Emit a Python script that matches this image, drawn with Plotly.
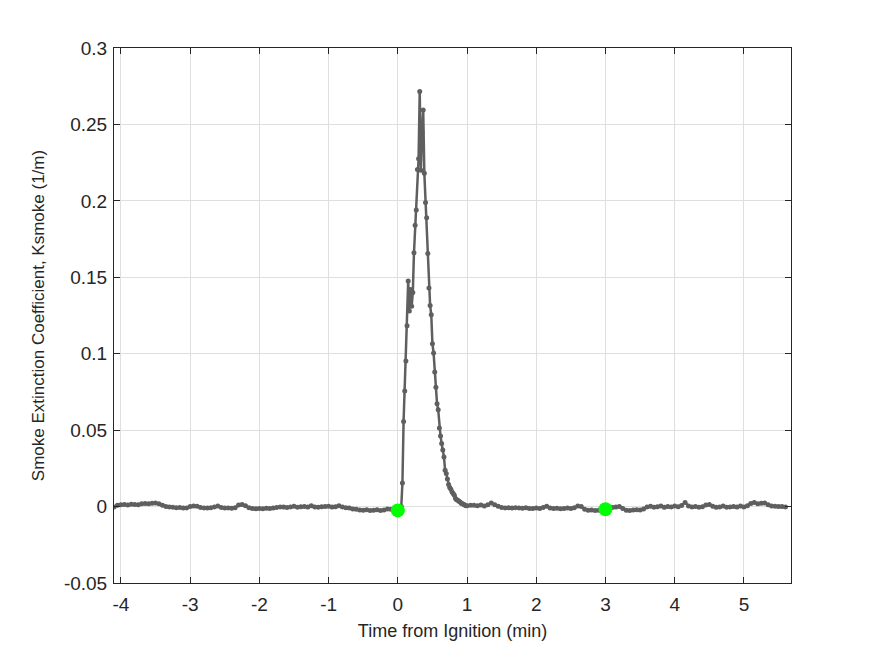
import numpy as np
import plotly.graph_objects as go

# ---------------- data ----------------
# pre-ignition baseline, sampled every 0.05 min from -4.10 to -0.05
t_pre = np.round(np.arange(-4.10, -0.025, 0.05), 4)
k_pre = [
    -0.0002, 0.0008, 0.0012, 0.0013, 0.0010, 0.0015, 0.0014, 0.0012, 0.0019, 0.0020,
    0.0018, 0.0022, 0.0024, 0.0019, 0.0008, 0.0000, -0.0002, -0.0004, -0.0008, -0.0006,
    -0.0010, -0.0009, 0.0000, 0.0004, 0.0002, -0.0006, -0.0009, -0.0010, -0.0008, -0.0002,
    0.0004, -0.0006, -0.0010, -0.0009, -0.0011, -0.0008, 0.0010, 0.0013, 0.0005, -0.0008,
    -0.0013, -0.0014, -0.0012, -0.0015, -0.0011, -0.0013, -0.0010, -0.0006, -0.0002, -0.0003,
    -0.0006, -0.0002, 0.0002, -0.0004, -0.0001, 0.0000, -0.0003, 0.0006, -0.0002, -0.0004,
    -0.0001, 0.0000, 0.0002, -0.0003, -0.0001, 0.0005, -0.0002, -0.0008, -0.0010, -0.0016,
    -0.0018, -0.0022, -0.0024, -0.0020, -0.0026, -0.0024, -0.0021, -0.0025, -0.0022, -0.0016,
    -0.0018, -0.0020,
]
t_pre = t_pre[:len(k_pre)]

# ignition event, sampled every second (1/60 min) from 0 to 1 min
t_peak = np.round(np.arange(0, 61) / 60.0, 5)
k_peak = [
    -0.0025, -0.0020, -0.0015, 0.0000, 0.0155, 0.0556, 0.0756, 0.0952, 0.1183, 0.1475,
    0.1280, 0.1420, 0.1310, 0.1400, 0.1660, 0.1840, 0.1940, 0.2205, 0.2275, 0.2715,
    0.2200, 0.2450, 0.2595, 0.2180, 0.1990, 0.1890, 0.1656, 0.1430, 0.1316, 0.1255,
    0.1065, 0.1005, 0.0880, 0.0780, 0.0673, 0.0634, 0.0514, 0.0462, 0.0412, 0.0370,
    0.0325, 0.0237, 0.0216, 0.0180, 0.0144, 0.0125, 0.0113, 0.0096, 0.0085, 0.0074,
    0.0052, 0.0045, 0.0041, 0.0035, 0.0030, 0.0022, 0.0018, 0.0015, 0.0010, 0.0005,
    0.0005,
]

# post-event baseline, sampled every 0.05 min from 1.05 to 5.60
t_post = np.round(np.arange(1.05, 5.625, 0.05), 4)
k_post = [
    0.0008, 0.0009, 0.0006, 0.0010, 0.0003, 0.0012, 0.0024, 0.0012, 0.0002, -0.0006,
    -0.0009, -0.0008, -0.0010, -0.0007, -0.0009, -0.0011, -0.0008, -0.0012, -0.0013, -0.0010,
    -0.0013, -0.0006, 0.0002, -0.0010, -0.0013, -0.0011, -0.0014, -0.0012, -0.0010, -0.0013,
    -0.0008, 0.0004, 0.0000, -0.0018, -0.0024, -0.0022, -0.0026, -0.0024, -0.0018, -0.0010,
    -0.0007, -0.0006, -0.0003, 0.0001, -0.0012, -0.0024, -0.0025, -0.0022, -0.0020, -0.0023,
    -0.0016, -0.0002, 0.0002, -0.0004, -0.0001, 0.0003, -0.0005, 0.0001, -0.0002, 0.0004,
    -0.0001, 0.0007, 0.0026, 0.0004, -0.0002, 0.0000, -0.0004, -0.0001, 0.0010, 0.0014,
    0.0002, -0.0005, -0.0002, 0.0003, -0.0004, -0.0002, 0.0001, -0.0003, 0.0003, -0.0002,
    0.0006, 0.0020, 0.0026, 0.0018, 0.0022, 0.0024, 0.0012, 0.0004, 0.0002, 0.0000,
    0.0001, -0.0002,
]
t_post = t_post[:len(k_post)]

time_min = list(t_pre) + list(t_peak) + list(t_post)
ksmoke = k_pre + k_peak + k_post

# event markers (ignition and end of test window)
event_t = [0.0, 3.0]
event_k = [-0.0025, -0.0018]

x_ticks = [-4, -3, -2, -1, 0, 1, 2, 3, 4, 5]
x_tick_text = ["-4", "-3", "-2", "-1", "0", "1", "2", "3", "4", "5"]
y_ticks = [-0.05, 0, 0.05, 0.1, 0.15, 0.2, 0.25, 0.3]
y_tick_text = ["-0.05", "0", "0.05", "0.1", "0.15", "0.2", "0.25", "0.3"]

# ---------------- figure ----------------
fig = go.Figure()
fig.add_trace(go.Scatter(
    x=time_min, y=ksmoke, mode="lines+markers",
    line=dict(color="#5f5f5f", width=2.5),
    marker=dict(color="#5f5f5f", size=5),
    showlegend=False, hoverinfo="skip",
))
fig.add_trace(go.Scatter(
    x=event_t, y=event_k, mode="markers",
    marker=dict(color="#00ff00", size=14),
    showlegend=False, hoverinfo="skip",
))

axis_common = dict(
    showline=True, linecolor="#262626", linewidth=1, mirror="ticks",
    ticks="inside", ticklen=6, tickcolor="#262626",
    showgrid=True, gridcolor="#dfdfdf", gridwidth=1,
    zeroline=False,
    tickfont=dict(family="Liberation Sans, Arial, sans-serif", size=19, color="#262626"),
)

fig.update_layout(
    width=875, height=656,
    margin=dict(l=114, r=84, t=48, b=73),
    paper_bgcolor="white", plot_bgcolor="white",
    font=dict(family="Liberation Sans, Arial, sans-serif", color="#262626"),
    xaxis=dict(
        range=[-4.10, 5.68], tickvals=x_ticks, ticktext=x_tick_text,
        ticklabelstandoff=4,
        title=dict(text="Time from Ignition (min)", standoff=10,
                   font=dict(size=18, color="#262626")),
        **axis_common,
    ),
    yaxis=dict(
        range=[-0.05, 0.3], tickvals=y_ticks, ticktext=y_tick_text,
        ticklabelstandoff=2,
        title=dict(text="Smoke Extinction Coefficient, Ksmoke (1/m)", standoff=14,
                   font=dict(size=17, color="#262626")),
        **axis_common,
    ),
)

fig.write_html("out.html")
